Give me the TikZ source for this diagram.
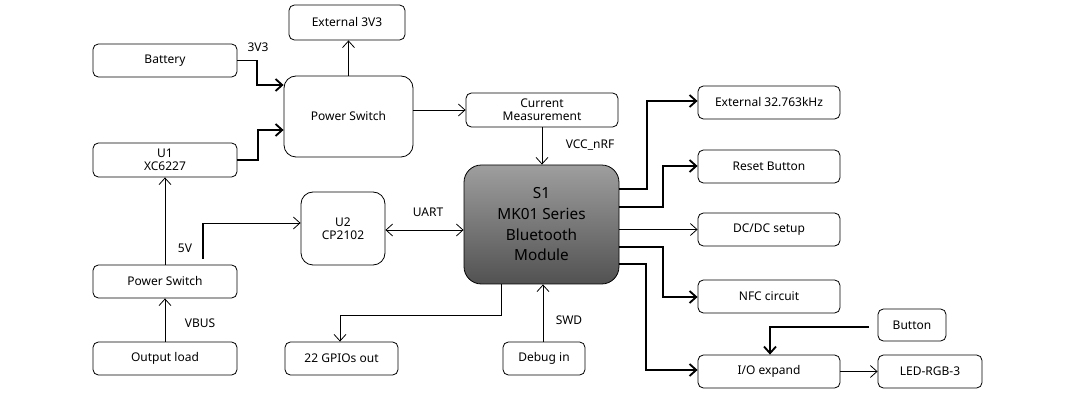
\documentclass[tikz,border=0pt]{standalone}
\usepackage{fontspec}
\setmainfont{Noto Sans}
\usetikzlibrary{arrows.meta}
\begin{document}
\begin{tikzpicture}[x=0.75pt,y=-0.75pt,
  box/.style={draw,rounded corners=4pt,line width=0.6pt,font=\fontsize{9}{10}\selectfont,align=center,inner sep=0pt},
  ar/.style={-{Straight Barb[length=5pt,width=9pt]},line width=0.6pt},
  tk/.style={line width=1.4pt},
  lab/.style={font=\fontsize{9}{10}\selectfont}]
\useasboundingbox (0,0) rectangle (1065,413);
\node[box,minimum width=87pt,minimum height=26.25pt] (e3) at (347,22.5) {External 3V3};
\node[box,minimum width=108pt,minimum height=24.75pt] (bat) at (165,60.5) {Battery};
\node[box,rounded corners=9pt,minimum width=96.75pt,minimum height=60.75pt] (ps1) at (348.5,116.5) {Power Switch};
\node[box,minimum width=108pt,minimum height=25.5pt] (u1) at (165,160) {U1\\XC6227};
\node[box,minimum width=114pt,minimum height=25.5pt] (cur) at (542,110) {Current\\Measurement};
\node[box,rounded corners=13pt,top color=black!38,bottom color=black!68,minimum width=116.25pt,minimum height=89.25pt,font=\fontsize{11.5}{15.5}\selectfont] (s1) at (541.5,224.5) {S1\\MK01 Series\\Bluetooth\\Module};
\node[box,rounded corners=9pt,minimum width=63pt,minimum height=54.75pt] (u2) at (343,228.5) {U2\\CP2102};
\node[box,minimum width=108pt,minimum height=24.75pt] (ps2) at (165,281.5) {Power Switch};
\node[box,minimum width=108pt,minimum height=24.75pt] (out) at (165,358.5) {Output load};
\node[box,minimum width=84.75pt,minimum height=24.75pt] (gpio) at (341.5,358.5) {22 GPIOs out};
\node[box,minimum width=61.5pt,minimum height=24.75pt] (dbg) at (544,358.5) {Debug in};
\node[box,minimum width=106.5pt,minimum height=24.75pt] (x32) at (769,102.5) {External 32.763kHz};
\node[box,minimum width=106.5pt,minimum height=24.75pt] (rst) at (769,166.5) {Reset Button};
\node[box,minimum width=106.5pt,minimum height=24.75pt] (dc) at (769,229.5) {DC/DC setup};
\node[box,minimum width=106.5pt,minimum height=24.75pt] (nfc) at (769,296.5) {NFC circuit};
\node[box,minimum width=51pt,minimum height=24pt] (btn) at (912,325) {Button};
\node[box,minimum width=106.5pt,minimum height=24.75pt] (io) at (769,371.5) {I/O expand};
\node[box,minimum width=78pt,minimum height=24.75pt] (led) at (930,371.5) {LED-RGB-3};
% power
\coordinate (y85) at (0,85); \coordinate (y130) at (0,130);
\draw[ar,tk] (bat.east) -- (257,60.5) -- (257,85) -- (ps1.west |- y85);
\draw[ar,tk] (u1.east) -- (258,160) -- (258,130) -- (ps1.west |- y130);
\draw[ar] (ps1.north) -- (e3.south -| ps1.north);
\draw[ar] (ps1.east |- cur.west) -- (cur.west);
\draw[ar] (cur.south) -- (s1.north -| cur.south);
\draw[ar] (ps2.north) -- (u1.south);
\draw[ar] (out.north) -- (ps2.south);
\coordinate (v5) at (203,259);
\draw[ar] (v5) -- (203,223) -- (u2.west |- 0,223);
\draw[tk] (v5) -- (203,223);
\draw[{Straight Barb[length=5pt,width=9pt]}-{Straight Barb[length=5pt,width=9pt]},line width=0.6pt] (u2.east |- 0,230) -- (s1.west |- 0,230);
\draw[ar] (s1.south -| 501,0) -- (501,315) -- (340,315) -- (gpio.north -| 340,0);
\draw[ar] (dbg.north -| 543,0) -- (s1.south -| 543,0);
% right side
\draw[ar,tk] (s1.east |- 0,189) -- (647,189) -- (647,101) -- (x32.west |- 0,101);
\draw[ar,tk] (s1.east |- 0,207) -- (663,207) -- (663,166) -- (rst.west |- 0,166);
\draw[ar] (s1.east |- dc.west) -- (dc.west);
\draw[ar,tk] (s1.east |- 0,247) -- (663,247) -- (663,297) -- (nfc.west |- 0,297);
\draw[ar,tk] (s1.east |- 0,264) -- (646,264) -- (646,370) -- (io.west |- 0,370);
\coordinate (bs) at (869,327);
\draw[ar,tk] (bs) -- (770,327) -- (io.north -| 770,0);
\draw[ar] (io.east) -- (led.west);
% labels
\node[lab] (l1) at (258,47) {3V3};
\node[lab] (l2) at (185,248) {5V};
\node[lab] (l3) at (200,323) {VBUS};
\node[lab] (l4) at (428,212) {UART};
\node[lab] (l5) at (590,145) {VCC\_nRF};
\node[lab] (l6) at (569,320) {SWD};
\end{tikzpicture}
\end{document}
